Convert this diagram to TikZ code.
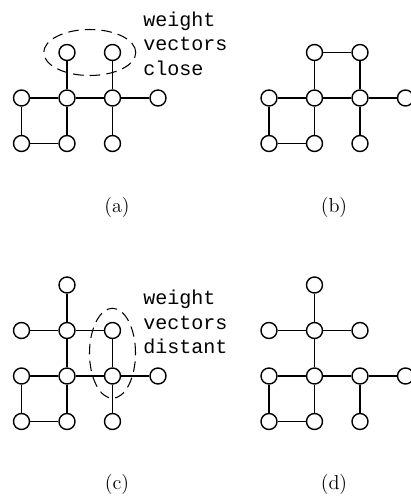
\documentclass[tikz,border=0pt]{standalone}
\usepackage{fontspec}
\usepackage{tikz}
\usetikzlibrary{positioning, calc}
\newfontfamily\codefont{Liberation Mono}
\tikzstyle{vertex} = [circle, draw, thick, fill=white, minimum size=0.32cm, inner sep=0pt]
\tikzstyle{edge} = [thick]
\tikzstyle{ring} = [line width=0.6pt, dash pattern=on 6pt off 3.5pt]
\tikzstyle{note} = [anchor=north west, inner sep=0pt, align=left, font=\codefont\fontsize{11.4}{13.9}\selectfont]
\tikzstyle{caption} = [font=\fontsize{11.5}{14}\selectfont]

\begin{document}
\begin{tikzpicture}[node distance=0.91cm]
  \useasboundingbox (0,0) rectangle (8.22,-9.92);

  \node (a22) [vertex] at (1.34,-1.96) {};
  \node (a21) [vertex, left of=a22] {};
  \node (a23) [vertex, right of=a22] {};
  \node (a24) [vertex, right of=a23] {};
  \node (a12) [vertex, above of=a22] {};
  \node (a13) [vertex, above of=a23] {};
  \node (a31) [vertex, below of=a21] {};
  \node (a32) [vertex, below of=a22] {};
  \node (a33) [vertex, below of=a23] {};

  \draw [edge] (a12) -- (a22);
  \draw [edge] (a13) -- (a23);
  \draw [edge] (a21) -- (a22) -- (a23) -- (a24);
  \draw [edge] (a21) -- (a31) -- (a32) -- (a22);
  \draw [edge] (a23) -- (a33);
  \draw [ring] ($(a12)!0.5!(a13)$) ellipse (0.92cm and 0.46cm);
  \node (anote) [note] at (2.86,-0.23) {weight\\vectors\\close};
  \node (acap) [caption] at (2.34,-4.14) {(a)};

  \node (b22) [vertex] at (6.29,-1.96) {};
  \node (b21) [vertex, left of=b22] {};
  \node (b23) [vertex, right of=b22] {};
  \node (b24) [vertex, right of=b23] {};
  \node (b12) [vertex, above of=b22] {};
  \node (b13) [vertex, above of=b23] {};
  \node (b31) [vertex, below of=b21] {};
  \node (b32) [vertex, below of=b22] {};
  \node (b33) [vertex, below of=b23] {};

  \draw [edge] (b12) -- (b13) -- (b23);
  \draw [edge] (b12) -- (b22);
  \draw [edge] (b21) -- (b22) -- (b23) -- (b24);
  \draw [edge] (b21) -- (b31) -- (b32) -- (b22);
  \draw [edge] (b23) -- (b33);
  \node (bcap) [caption] at (6.68,-4.14) {(b)};

  \node (c32) [vertex] at (1.34,-7.52) {};
  \node (c31) [vertex, left of=c32] {};
  \node (c33) [vertex, right of=c32] {};
  \node (c34) [vertex, right of=c33] {};
  \node (c22) [vertex, above of=c32] {};
  \node (c21) [vertex, left of=c22] {};
  \node (c23) [vertex, right of=c22] {};
  \node (c12) [vertex, above of=c22] {};
  \node (c41) [vertex, below of=c31] {};
  \node (c42) [vertex, below of=c32] {};
  \node (c43) [vertex, below of=c33] {};

  \draw [edge] (c12) -- (c22) -- (c32);
  \draw [edge] (c21) -- (c22) -- (c23) -- (c33);
  \draw [edge] (c31) -- (c32) -- (c33) -- (c34);
  \draw [edge] (c31) -- (c41) -- (c42) -- (c32);
  \draw [edge] (c33) -- (c43);
  \draw [ring] ($(c23)!0.5!(c33)$) ellipse (0.46cm and 0.90cm);
  \node (cnote) [note] at (2.86,-5.80) {weight\\vectors\\distant};
  \node (ccap) [caption] at (2.34,-9.68) {(c)};

  \node (d32) [vertex] at (6.29,-7.52) {};
  \node (d31) [vertex, left of=d32] {};
  \node (d33) [vertex, right of=d32] {};
  \node (d34) [vertex, right of=d33] {};
  \node (d22) [vertex, above of=d32] {};
  \node (d21) [vertex, left of=d22] {};
  \node (d23) [vertex, right of=d22] {};
  \node (d12) [vertex, above of=d22] {};
  \node (d41) [vertex, below of=d31] {};
  \node (d42) [vertex, below of=d32] {};
  \node (d43) [vertex, below of=d33] {};

  \draw [edge] (d12) -- (d22) -- (d32);
  \draw [edge] (d21) -- (d22) -- (d23);
  \draw [edge] (d31) -- (d32) -- (d33) -- (d34);
  \draw [edge] (d31) -- (d41) -- (d42) -- (d32);
  \draw [edge] (d33) -- (d43);
  \node (dcap) [caption] at (6.68,-9.68) {(d)};
\end{tikzpicture}
\end{document}
